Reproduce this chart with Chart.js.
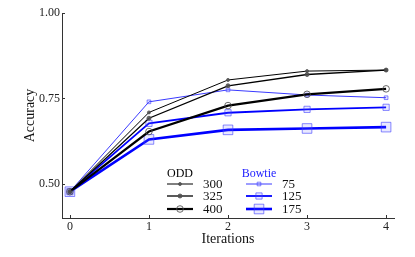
<!DOCTYPE html>
<html>
<head>
<meta charset="utf-8">
<script src="https://cdn.jsdelivr.net/npm/chart.js@4"></script>
<style>
html, body { margin: 0; padding: 0; background: #fff; }
#wrap { width: 415px; height: 257px; }
</style>
</head>
<body>
<div id="wrap"><canvas id="c"></canvas></div>
<script>
// data
const iterations = [0, 1, 2, 3, 4];
const xTicks = [0, 1, 2, 3, 4];
const yTicks = [0.50, 0.75, 1.00];

const odd300 = [0.477, 0.709, 0.804, 0.830, 0.833];
const odd325 = [0.477, 0.692, 0.787, 0.820, 0.833];
const odd400 = [0.477, 0.653, 0.729, 0.762, 0.778];
const bow75  = [0.477, 0.740, 0.775, 0.760, 0.752];
const bow125 = [0.477, 0.677, 0.708, 0.718, 0.724];
const bow175 = [0.477, 0.630, 0.658, 0.662, 0.666];

const serif = '"Liberation Serif", "DejaVu Serif", serif';

const pts = (ys) => iterations.map((x, i) => ({ x: x, y: ys[i] }));

const blackPt = 'rgba(80,80,80,0.85)';
const bluePt = 'rgba(60,60,255,0.6)';
const blueFill = 'rgba(110,110,255,0.15)';

const datasets = [
    { label: '300', group: 'odd', data: pts(odd300), borderColor: '#000', borderWidth: 1,
      pointStyle: 'circle', pointRadius: 1.5, pointBorderColor: blackPt, pointBackgroundColor: blackPt, pointBorderWidth: 1 },
    { label: '325', group: 'odd', data: pts(odd325), borderColor: '#000', borderWidth: 1.3,
      pointStyle: 'circle', pointRadius: 2, pointBorderColor: blackPt, pointBackgroundColor: blackPt, pointBorderWidth: 1 },
    { label: '400', group: 'odd', data: pts(odd400), borderColor: '#000', borderWidth: 2.2,
      pointStyle: 'circle', pointRadius: 3.3, pointBorderColor: blackPt, pointBackgroundColor: 'rgba(255,255,255,0)', pointBorderWidth: 1 },
    { label: '75', group: 'bow', data: pts(bow75), borderColor: '#3a3aff', borderWidth: 1,
      pointStyle: 'rect', pointRadius: 2.6, pointBorderColor: bluePt, pointBackgroundColor: blueFill, pointBorderWidth: 1 },
    { label: '125', group: 'bow', data: pts(bow125), borderColor: '#0000ff', borderWidth: 1.8,
      pointStyle: 'rect', pointRadius: 4.4, pointBorderColor: bluePt, pointBackgroundColor: blueFill, pointBorderWidth: 1 },
    { label: '175', group: 'bow', data: pts(bow175), borderColor: '#0000ff', borderWidth: 2.6,
      pointStyle: 'rect', pointRadius: 6.8, pointBorderColor: bluePt, pointBackgroundColor: blueFill, pointBorderWidth: 1 }
];
datasets.forEach(d => { d.fill = false; d.tension = 0; d.pointHoverRadius = d.pointRadius; });

// inward tick marks
const innerTicks = {
    id: 'innerTicks',
    afterDraw(chart) {
        const ctx = chart.ctx;
        const xs = chart.scales.x, ys = chart.scales.y;
        ctx.save();
        ctx.strokeStyle = '#333';
        ctx.lineWidth = 1;
        ctx.beginPath();
        xs.ticks.forEach((t, i) => {
            const px = Math.round(xs.getPixelForTick(i)) + 0.5;
            ctx.moveTo(px, xs.top + 1);
            ctx.lineTo(px, xs.top - 3);
        });
        ys.ticks.forEach((t, i) => {
            const py = Math.round(ys.getPixelForTick(i)) + 0.5;
            ctx.moveTo(ys.right, py);
            ctx.lineTo(ys.right + 3, py);
        });
        ctx.stroke();
        ctx.restore();
    }
};

// two-column legend with headers
const groupLegend = {
    id: 'groupLegend',
    afterDatasetsDraw(chart) {
        const ctx = chart.ctx;
        const cols = { odd: { x: 167, title: 'ODD', color: '#000' }, bow: { x: 246, title: 'Bowtie', color: '#2020ff' } };
        const rowY = [184, 196, 209];
        ctx.save();
        ctx.font = '12px ' + serif;
        ctx.textBaseline = 'middle';
        Object.keys(cols).forEach(key => {
            const col = cols[key];
            ctx.fillStyle = col.color;
            ctx.textAlign = 'center';
            ctx.fillText(col.title, col.x + 13, 174);
            const sets = chart.data.datasets.filter(d => d.group === key);
            sets.forEach((d, i) => {
                const y = rowY[i];
                ctx.strokeStyle = d.borderColor;
                ctx.lineWidth = d.borderWidth;
                ctx.beginPath();
                ctx.moveTo(col.x, y);
                ctx.lineTo(col.x + 26, y);
                ctx.stroke();
                ctx.strokeStyle = d.pointBorderColor;
                ctx.fillStyle = d.pointBackgroundColor;
                ctx.lineWidth = d.pointBorderWidth;
                Chart.helpers.drawPoint(ctx, { pointStyle: d.pointStyle, radius: d.pointRadius, rotation: 0, borderWidth: 1 }, col.x + 13, y);
                ctx.fillStyle = '#111';
                ctx.textAlign = 'left';
                ctx.font = '13px ' + serif;
                ctx.fillText(d.label, col.x + 36, y + 1);
                ctx.font = '12px ' + serif;
            });
        });
        ctx.restore();
    }
};

const ctx = document.getElementById('c').getContext('2d');
new Chart(ctx, {
    type: 'line',
    data: { datasets: datasets },
    options: {
        responsive: true,
        maintainAspectRatio: false,
        animation: false,
        layout: { padding: { left: 0, right: 21, top: 13, bottom: 7 } },
        plugins: { legend: { display: false }, tooltip: { enabled: false } },
        scales: {
            x: {
                type: 'linear',
                min: -0.1,
                max: 4.1,
                afterBuildTicks: (s) => { s.ticks = xTicks.map(v => ({ value: v })); },
                afterFit: (s) => { s.height = 32; },
                ticks: { color: '#222', font: { family: serif, size: 12 }, padding: 2, maxRotation: 0 },
                grid: { display: false, drawTicks: false },
                border: { display: true, color: '#333', width: 1 },
                title: { display: true, text: 'Iterations', color: '#111', font: { family: serif, size: 14 }, padding: { top: 0, bottom: 2 } }
            },
            y: {
                type: 'linear',
                min: 0.4,
                max: 1.0,
                afterBuildTicks: (s) => { s.ticks = yTicks.map(v => ({ value: v })); },
                afterFit: (s) => { s.width = 62; },
                ticks: { color: '#222', font: { family: serif, size: 12 }, padding: 2, callback: (v) => v.toFixed(2) },
                grid: { display: false, drawTicks: false },
                border: { display: true, color: '#333', width: 1 },
                title: { display: true, text: 'Accuracy', color: '#111', font: { family: serif, size: 14 }, padding: { top: 22, bottom: 0 } }
            }
        }
    },
    plugins: [innerTicks, groupLegend]
});
</script>
</body>
</html>
